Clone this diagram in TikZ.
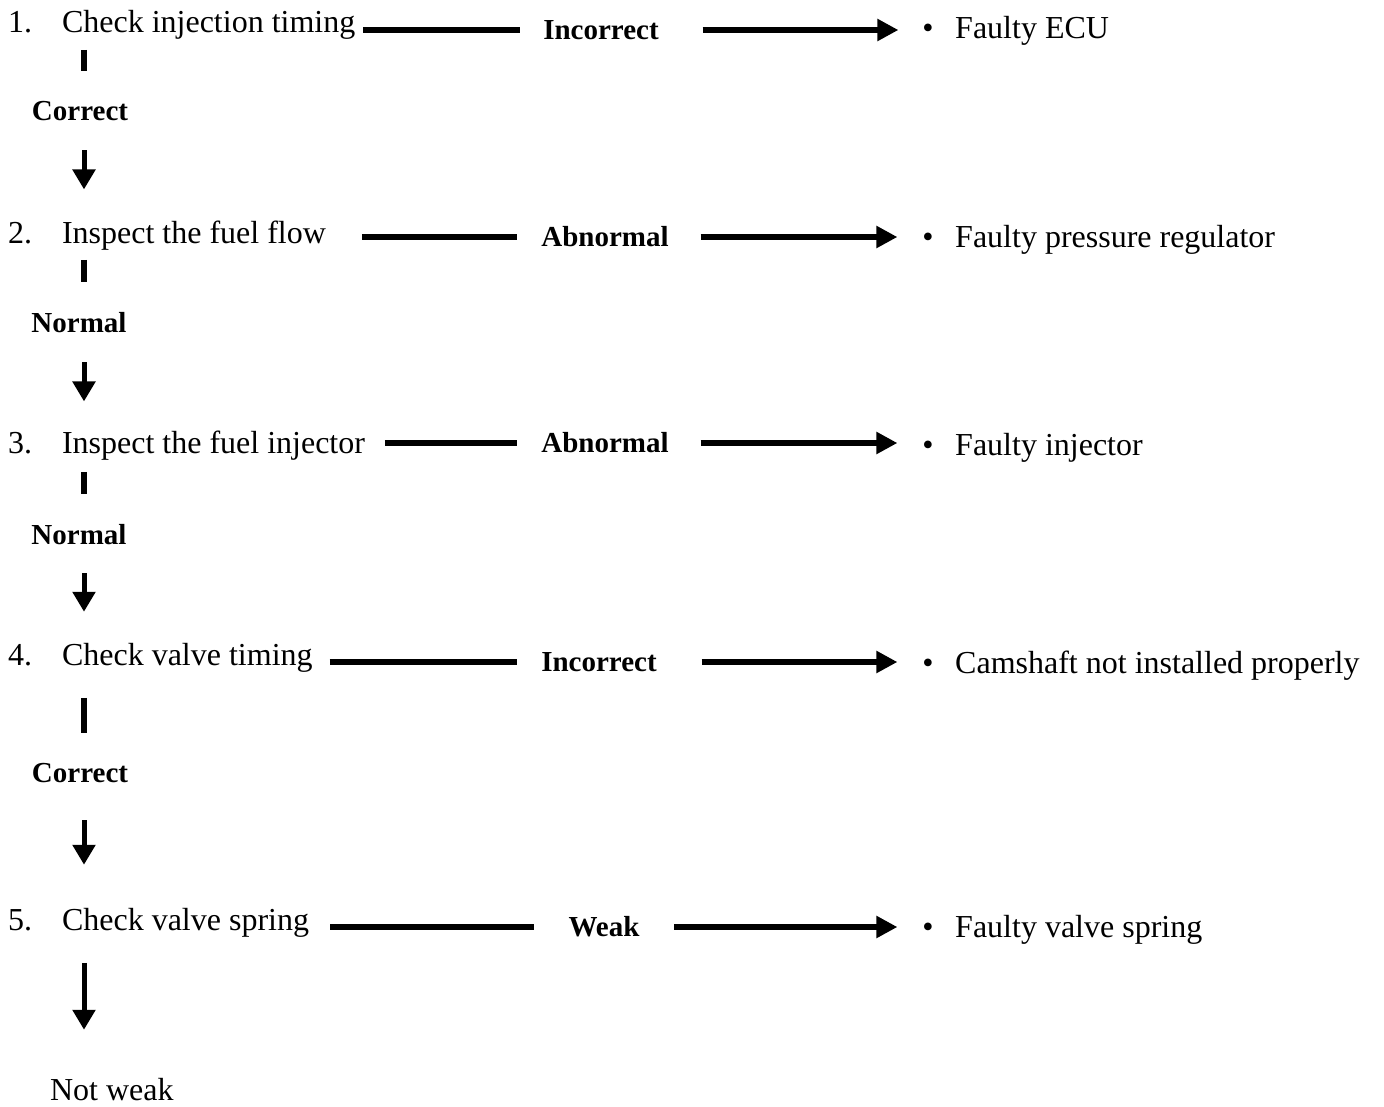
\documentclass[tikz,border=0pt]{standalone}
\usepackage{fontspec}
\setmainfont{Liberation Serif}
\usetikzlibrary{arrows.meta}
\tikzset{
  stepnode/.style={font=\fontsize{32pt}{38pt}\selectfont, anchor=base west, inner sep=0pt, outer sep=0pt},
  numnode/.style={font=\fontsize{32pt}{38pt}\selectfont, anchor=base west, inner sep=0pt},
  labnode/.style={font=\bfseries\fontsize{29pt}{34pt}\selectfont, inner sep=0pt, outer sep=0pt},
  vlab/.style={labnode, anchor=base},
  resnode/.style={font=\fontsize{32pt}{38pt}\selectfont, anchor=base west, inner sep=0pt},
  bulnode/.style={font=\fontsize{32pt}{38pt}\selectfont, anchor=base, inner sep=0pt, outer sep=0pt},
  hline/.style={line width=5.4pt},
  harrow/.style={line width=5.4pt, -{Triangle[length=21pt,width=21pt]}},
  vbar/.style={line width=6.5pt},
  varrow/.style={line width=5pt, -{Triangle[length=20pt,width=22pt]}},
}
\begin{document}
\begin{tikzpicture}[x=1pt,y=-1pt]
\useasboundingbox (0,0) rectangle (1384,1106);
\fill[white] (0,0) rectangle (1384,1106);
\coordinate (axis) at (84,0);

% steps
\node[numnode] (n1) at (8,32) {1.};
\node[stepnode] (s1) at (62,32) {Check injection timing};
\node[numnode] (n2) at (8,243) {2.};
\node[stepnode] (s2) at (62,243) {Inspect the fuel flow};
\node[numnode] (n3) at (8,453) {3.};
\node[stepnode] (s3) at (62,453) {Inspect the fuel injector};
\node[numnode] (n4) at (8,665) {4.};
\node[stepnode] (s4) at (62,665) {Check valve timing};
\node[numnode] (n5) at (8,930) {5.};
\node[stepnode] (s5) at (62,930) {Check valve spring};

% horizontal labels
\node[labnode] (l1) at (601,30) {Incorrect};
\node[labnode] (l2) at (605,237) {Abnormal};
\node[labnode] (l3) at (605,443) {Abnormal};
\node[labnode] (l4) at (599,662) {Incorrect};
\node[labnode] (l5) at (604,927) {Weak};

% results
\node[bulnode] (b1) at (928,38) {•};
\node[resnode] (r1) at (955,38) {Faulty ECU};
\node[bulnode] (b2) at (928,247) {•};
\node[resnode] (r2) at (955,247) {Faulty pressure regulator};
\node[bulnode] (b3) at (928,455) {•};
\node[resnode] (r3) at (955,455) {Faulty injector};
\node[bulnode] (b4) at (928,673) {•};
\node[resnode] (r4) at (955,673) {Camshaft not installed properly};
\node[bulnode] (b5) at (928,937) {•};
\node[resnode] (r5) at (955,937) {Faulty valve spring};

% vertical labels
\node[vlab] (v1) at (80,120) {Correct};
\node[vlab] (v2) at (79,332) {Normal};
\node[vlab] (v3) at (79,544) {Normal};
\node[vlab] (v4) at (80,782) {Correct};
\node[stepnode] (v5) at (50,1100) {Not weak};

% horizontal connectors
\draw[hline, shorten <=8pt, shorten >=23pt] (s1.east |- l1.west) -- (l1.west);
\draw[harrow, shorten <=44pt, shorten >=24pt] (l1.east) -- (l1.east -| b1.west);
\draw[hline, shorten <=36pt, shorten >=24pt] (s2.east |- l2.west) -- (l2.west);
\draw[harrow, shorten <=32pt, shorten >=25pt] (l2.east) -- (l2.east -| b2.west);
\draw[hline, shorten <=20pt, shorten >=24pt] (s3.east |- l3.west) -- (l3.west);
\draw[harrow, shorten <=32pt, shorten >=25pt] (l3.east) -- (l3.east -| b3.west);
\draw[hline, shorten <=17pt, shorten >=24pt] (s4.east |- l4.west) -- (l4.west);
\draw[harrow, shorten <=45pt, shorten >=25pt] (l4.east) -- (l4.east -| b4.west);
\draw[hline, shorten <=21pt, shorten >=35pt] (s5.east |- l5.west) -- (l5.west);
\draw[harrow, shorten <=35pt, shorten >=25pt] (l5.east) -- (l5.east -| b5.west);

% vertical connectors
\draw[vbar, shorten <=11pt, shorten >=30pt] (s1.south -| axis) -- (v1.north -| axis);
\draw[varrow, shorten <=30pt, shorten >=31pt] (v1.south -| axis) -- (s2.north -| axis);
\draw[vbar, shorten <=10pt, shorten >=30pt] (s2.south -| axis) -- (v2.north -| axis);
\draw[varrow, shorten <=30pt, shorten >=29pt] (v2.south -| axis) -- (s3.north -| axis);
\draw[vbar, shorten <=12pt, shorten >=30pt] (s3.south -| axis) -- (v3.north -| axis);
\draw[varrow, shorten <=29pt, shorten >=31pt] (v3.south -| axis) -- (s4.north -| axis);
\draw[vbar, shorten <=26pt, shorten >=30pt] (s4.south -| axis) -- (v4.north -| axis);
\draw[varrow, shorten <=38pt, shorten >=43pt] (v4.south -| axis) -- (s5.north -| axis);
\draw[varrow, shorten <=26pt, shorten >=48pt] (s5.south -| axis) -- (v5.north -| axis);
\end{tikzpicture}
\end{document}
